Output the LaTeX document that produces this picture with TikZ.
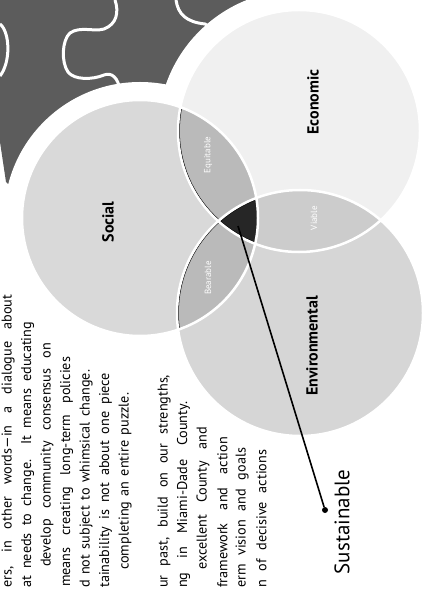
\documentclass[tikz,border=0pt]{standalone}
\usepackage{fontspec}
\setmainfont{PT Sans}
\usetikzlibrary{arrows}
\tikzstyle{ring}=[draw=white,line width=2.5pt]
\tikzstyle{rim}=[draw=black,line width=0.8pt]
\tikzstyle{lens}=[fill=black!27]
\tikzstyle{core}=[fill=black!85]
\tikzstyle{setname}=[rotate=90,inner sep=0pt,font=\bfseries\fontsize{16}{16}\selectfont]
\tikzstyle{lensname}=[rotate=90,inner sep=0pt,text=white,font=\fontsize{9}{9}\selectfont]
\tikzstyle{body}=[rotate=90,anchor=west,inner sep=0pt,font=\fontsize{14.2}{14.2}\selectfont]
\tikzstyle{puzzle}=[draw=white,line width=3pt]
\tikzstyle{pin}=[circle,fill=black,minimum size=6pt,inner sep=0pt]

\begin{document}
\begin{tikzpicture}[x=1pt,y=-1pt]
  \useasboundingbox (0,0) rectangle (425,593);
  \clip (0,0) rectangle (425,593);

  % Puzzle pieces in the corner
  \fill[black!64] (0,0) -- (250,0) -- (250,160) -- (60,160) -- (14,190) -- (6,182) -- (0,142) -- cycle;
  \draw[puzzle] (115,0) .. controls (119,12) and (117,24) .. (104,29)
    .. controls (94,32) and (80,26) .. (70,33)
    .. controls (62,40) and (61,62) .. (68,72)
    .. controls (74,80) and (92,80) .. (104,75)
    .. controls (112,72) and (118,78) .. (120,90);
  \draw[puzzle] (0,24) .. controls (10,32) and (11,62) .. (0,76);
  \draw[puzzle] (176,0) .. controls (178,14) and (186,22) .. (205,24) -- (215,30);

  % Centres of the three circles
  \coordinate (soc) at (140,218);
  \coordinate (eco) at (299,131);
  \coordinate (env) at (300,313);

  % White margin cut out of the puzzle
  \fill[white] (soc) circle (136pt);
  \fill[white] (eco) circle (141pt);

  % The circles, then their overlaps
  \fill[black!15] (soc) circle (118pt);
  \fill[black!6] (eco) circle (121pt);
  \fill[black!16] (env) circle (123pt);
  \begin{scope}
    \clip (eco) circle (121pt);
    \fill[black!20] (env) circle (123pt);
  \end{scope}
  \begin{scope}
    \clip (soc) circle (118pt);
    \fill[lens] (eco) circle (121pt);
    \fill[lens] (env) circle (123pt);
    \clip (eco) circle (121pt);
    \fill[core] (env) circle (123pt);
  \end{scope}
  \begin{scope}
    \clip (soc) circle (118pt);
    \draw[rim] (eco) circle (119.6pt);
    \draw[rim] (env) circle (121.6pt);
  \end{scope}
  \foreach \c/\r in {soc/118, eco/121, env/123}
    \draw[ring] (\c) circle (\r pt);

  % Names of the circles and of the overlaps
  \node[setname] (social) at (108,222) {Social};
  \node[setname] (economic) at (313,102) {Economic};
  \node[setname] (environmental) at (312,346) {Environmental};
  \node[lensname] (equitable) at (208,155) {Equitable};
  \node[lensname] (bearable) at (208,278) {Bearable};
  \node[lensname] (viable) at (314,218) {Viable};

  % Pointer from the middle
  \coordinate (heart) at (238,226);
  \node[pin] (dot) at (325,510) {};
  \draw[line width=1.6pt] (heart) -- (dot);
  \node[rotate=90,inner sep=0pt,font=\fontsize{21}{21}\selectfont] (sustainable) at (342,522) {Sustainable};

  % Body text, one justified line at a time
  \foreach \xpos/\ypos/\len/\words in {
      {8/588/293/ers, in other words—in a dialogue about},
      {27.5/588/266/at needs to change. It means educating},
      {47/567/224/develop community consensus on},
      {66.5/587/230/means creating long-term policies},
      {86/588/218/d not subject to whimsical change.},
      {105.5/588/215/tainability is not about one piece},
      {125/570/177/completing an entire puzzle.},
      {164/588/213/ur past, build on our strengths,},
      {183.5/588/186/ng in Miami-Dade County.},
      {203/570/143/excellent County and},
      {222.5/588/151/framework and action},
      {242/588/140/erm vision and goals},
      {261.5/588/138/n of decisive actions}}
    \node[body] at (\xpos,\ypos) {\makebox[\len pt][s]{\words}};
\end{tikzpicture}
\end{document}
